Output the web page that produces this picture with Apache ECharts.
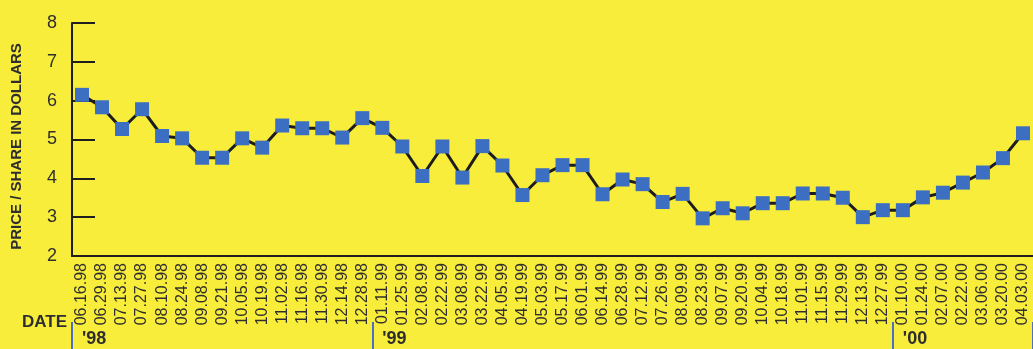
<!DOCTYPE html>
<html>
<head>
<meta charset="utf-8">
<style>
  html, body { margin: 0; padding: 0; background: #f8ed3b; }
  #chart-container { width: 1033px; height: 349px; }
</style>
<script src="https://cdn.jsdelivr.net/npm/echarts@6/dist/echarts.min.js"></script>
</head>
<body>
<div id="chart-container"></div>
<script>
var dates = [
    '06.16.98', '06.29.98', '07.13.98', '07.27.98', '08.10.98', '08.24.98', '09.08.98', '09.21.98',
    '10.05.98', '10.19.98', '11.02.98', '11.16.98', '11.30.98', '12.14.98', '12.28.98',
    '01.11.99', '01.25.99', '02.08.99', '02.22.99', '03.08.99', '03.22.99', '04.05.99', '04.19.99',
    '05.03.99', '05.17.99', '06.01.99', '06.14.99', '06.28.99', '07.12.99', '07.26.99', '08.09.99',
    '08.23.99', '09.07.99', '09.20.99', '10.04.99', '10.18.99', '11.01.99', '11.15.99', '11.29.99',
    '12.13.99', '12.27.99',
    '01.10.00', '01.24.00', '02.07.00', '02.22.00', '03.06.00', '03.20.00', '04.03.00'
];
var prices = [
    6.15, 5.83, 5.27, 5.78, 5.09, 5.03, 4.53, 4.53,
    5.03, 4.79, 5.36, 5.29, 5.29, 5.05, 5.55,
    5.30, 4.82, 4.06, 4.82, 4.02, 4.83, 4.33, 3.57,
    4.08, 4.34, 4.34, 3.59, 3.97, 3.85, 3.39, 3.60,
    2.97, 3.23, 3.10, 3.36, 3.36, 3.61, 3.61, 3.50,
    3.00, 3.18,
    3.18, 3.51, 3.63, 3.89, 4.15, 4.52, 5.16
];
// index of the first date of each year, and its label
var yearStart = { 0: "'98", 15: "'99", 41: "'00" };

var dom = document.getElementById('chart-container');
var myChart = echarts.init(dom, null, { renderer: 'canvas' });

var textColor = '#2e2e2e';

var option = {
    backgroundColor: '#f8ed3b',
    animation: false,
    grid: { left: 72, right: 0, top: 23, bottom: 93, outerBoundsMode: 'none', containLabel: false },
    xAxis: [
        {
            type: 'category',
            data: dates,
            boundaryGap: true,
            axisLine: { lineStyle: { color: '#1e1e1e', width: 2 } },
            axisTick: { inside: true, length: 5, lineStyle: { color: '#1e1e1e', width: 1.5 } },
            axisLabel: {
                interval: 0,
                rotate: 90,
                margin: 7,
                padding: [8, 0, 0, 0],
                color: textColor,
                fontSize: 16,
                fontFamily: 'Liberation Sans'
            }
        },
        {
            type: 'category',
            data: dates,
            position: 'bottom',
            offset: 66,
            boundaryGap: true,
            name: 'DATE',
            nameLocation: 'start',
            nameGap: 5,
            nameTextStyle: { color: textColor, fontSize: 17, fontWeight: 'bold', fontFamily: 'Liberation Sans' },
            axisLine: { show: false },
            axisTick: {
                show: true,
                length: 28,
                interval: function (i) { return yearStart[i] !== undefined; },
                lineStyle: { color: '#4a70c8', width: 2 }
            },
            axisLabel: {
                interval: function (i) { return yearStart[i] !== undefined; },
                formatter: function (v, i) { return yearStart[i] || ''; },
                align: 'left',
                margin: 8,
                color: textColor,
                fontSize: 18,
                fontWeight: 'bold',
                fontFamily: 'Liberation Sans'
            }
        }
    ],
    yAxis: {
        type: 'value',
        min: 2,
        max: 8,
        interval: 1,
        name: 'PRICE / SHARE IN DOLLARS',
        nameLocation: 'middle',
        nameGap: 48,
        nameTextStyle: {
            color: textColor, fontSize: 15, fontWeight: 'bold', fontFamily: 'Liberation Sans',
            padding: [0, 14, 0, 0]
        },
        axisLine: { show: true, lineStyle: { color: '#1e1e1e', width: 2 } },
        axisTick: { show: true, inside: true, length: 23, lineStyle: { color: '#1e1e1e', width: 2 } },
        splitLine: { show: false },
        axisLabel: {
            margin: 15,
            color: textColor,
            fontSize: 18,
            fontFamily: 'Liberation Sans'
        }
    },
    series: [
        {
            type: 'line',
            data: prices,
            symbol: 'rect',
            symbolSize: 14,
            lineStyle: { color: '#1c1c1c', width: 3 },
            itemStyle: { color: '#3c6fc2', borderWidth: 0 }
        }
    ]
};

myChart.setOption(option);

window.addEventListener('resize', myChart.resize);
</script>
</body>
</html>
